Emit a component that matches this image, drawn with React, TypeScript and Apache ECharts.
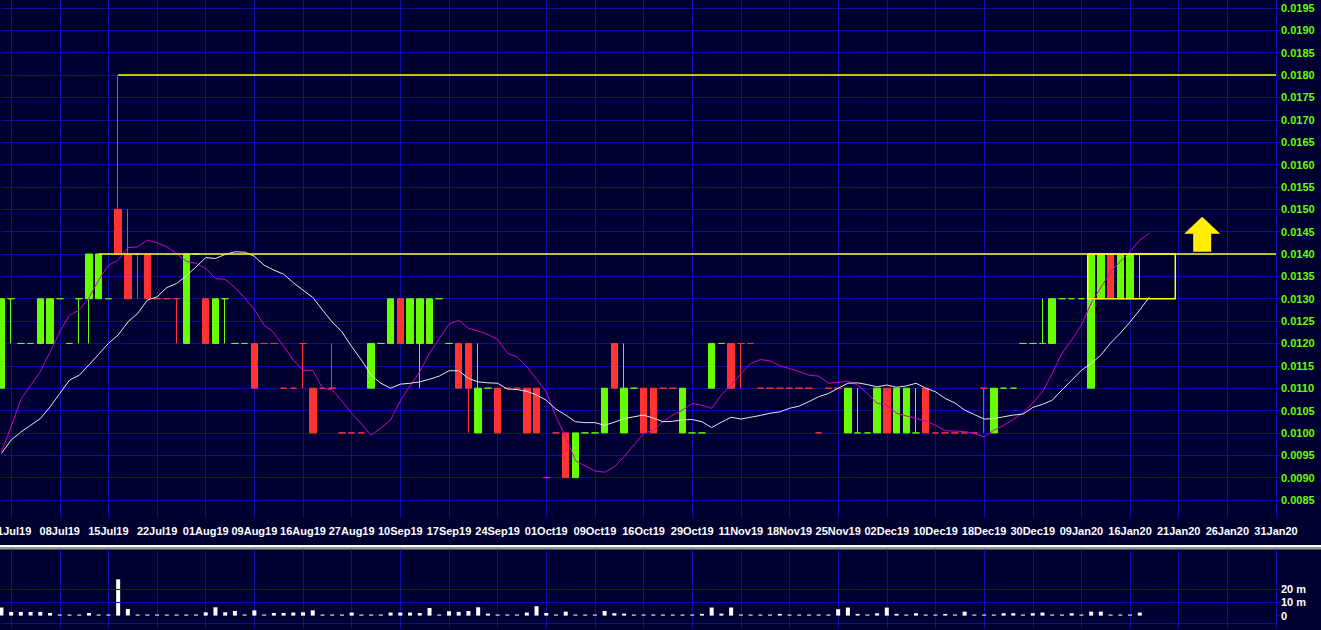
import React, { useEffect, useRef } from 'react';
import * as echarts from 'echarts';

// One category per session; slot 0 is the session before 01Jul19. Labels every 5 sessions.
const DATE_LABELS = ['01Jul19','08Jul19','15Jul19','22Jul19','01Aug19','09Aug19','16Aug19','27Aug19','10Sep19','17Sep19','24Sep19','01Oct19','09Oct19','16Oct19','29Oct19','11Nov19','18Nov19','25Nov19','02Dec19','10Dec19','18Dec19','30Dec19','09Jan20','16Jan20','21Jan20','26Jan20','31Jan20'];
const SLOT_COUNT = 132;
const LABEL_EVERY = 5;

const OPEN = [
  .011,.013,.012,.012,.012,.012,.013,.012,.013,.013,
  .013,.013,.015,.014,.014,.014,.013,.013,.013,.012,
  .014,.013,.012,.013,.012,.012,.012,.012,.012,.011,
  .011,.012,.011,.011,.011,.010,.010,.010,.011,.012,
  .012,.013,.012,.012,.012,.013,.012,.012,.012,.010,
  .011,.011,.011,.011,.011,.011,.009,.010,.010,.009,
  .010,.010,.010,.012,.010,.011,.011,.011,.011,.011,
  .010,.010,.010,.011,.012,.012,.012,.012,.011,.011,
  .011,.011,.011,.011,.010,.011,.011,.010,.010,.010,
  .010,.011,.010,.010,.010,.011,.010,.010,.010,.010,
  .010,.011,.010,.011,.011,.012,.012,.012,.012,.013,
  .013,.013,.011,.013,.014,.013,.013,.014];
const CLOSE = [
  .013,.013,.012,.012,.013,.013,.013,.012,.013,.014,
  .014,.013,.014,.013,.014,.013,.013,.013,.013,.014,
  .014,.012,.013,.013,.012,.012,.011,.012,.012,.011,
  .011,.012,.010,.011,.011,.010,.010,.010,.012,.012,
  .013,.012,.013,.013,.013,.013,.012,.011,.011,.011,
  .011,.010,.011,.011,.010,.010,.009,.010,.009,.010,
  .010,.010,.011,.011,.011,.011,.010,.010,.011,.011,
  .011,.010,.010,.012,.012,.011,.012,.012,.011,.011,
  .011,.011,.011,.011,.010,.011,.011,.011,.010,.010,
  .011,.010,.011,.011,.010,.010,.010,.010,.010,.010,
  .010,.011,.011,.011,.011,.012,.012,.012,.013,.013,
  .013,.013,.014,.014,.013,.014,.014,.014];
const LOW = [
  .011,.012,.012,.012,.012,.012,.013,.012,.012,.012,
  .013,.013,.014,.013,.013,.013,.013,.013,.012,.012,
  .014,.012,.012,.012,.012,.012,.011,.012,.012,.011,
  .011,.011,.010,.011,.011,.010,.010,.010,.011,.012,
  .012,.012,.012,.011,.012,.013,.012,.011,.010,.010,
  .011,.010,.011,.011,.010,.010,.009,.010,.009,.009,
  .010,.010,.010,.011,.010,.011,.010,.010,.011,.011,
  .010,.010,.010,.011,.012,.011,.011,.012,.011,.011,
  .011,.011,.011,.011,.010,.011,.011,.010,.010,.010,
  .010,.010,.010,.010,.010,.010,.010,.010,.010,.010,
  .010,.010,.010,.011,.011,.012,.012,.012,.012,.013,
  .013,.013,.011,.013,.013,.013,.013,.013];
const HIGH = [
  .013,.013,.012,.012,.013,.013,.013,.012,.013,.014,
  .014,.013,.018,.015,.014,.014,.013,.013,.013,.014,
  .014,.013,.013,.013,.012,.012,.012,.012,.012,.011,
  .011,.012,.011,.011,.012,.010,.010,.010,.012,.012,
  .013,.013,.013,.013,.013,.013,.012,.012,.012,.012,
  .011,.011,.011,.011,.011,.011,.009,.010,.010,.010,
  .010,.010,.011,.012,.012,.011,.011,.011,.011,.011,
  .011,.010,.010,.012,.012,.012,.012,.012,.011,.011,
  .011,.011,.011,.011,.010,.011,.011,.011,.011,.010,
  .011,.011,.011,.011,.011,.011,.010,.010,.010,.010,
  .010,.011,.011,.011,.011,.012,.012,.013,.013,.013,
  .013,.013,.014,.014,.014,.014,.014,.014];
const DIRECTION = (
  'GGGGGGGGGG' + 'GGRRRRRRRG' + 'GRGGGGRRRR' + 'RRRRRRRRGG' + 'GRGGGGGRRG' +
  'GRRRRRRRRG' + 'GGGRGGRRRR' + 'GGGGGRRRRR' + 'RRRRRRRGGG' + 'GRGGGRRRRR' +
  'RRGGGGGGGG' + 'GGGGRGGG').split('');
const VOLUME_M = [
  6.1,2.8,2.8,2.8,2.8,2.0,0.8,0.8,0.8,2.0,
  0.8,0.8,27.5,5.0,0.8,0.8,0.8,0.8,0.8,0.8,
  0.8,2.5,6.3,2.5,3.5,0.8,4.0,0.8,2.0,2.0,
  2.3,2.5,4.0,0.8,0.8,0.8,2.3,0.8,0.8,0.8,
  2.3,2.3,2.3,2.0,5.8,0.8,3.3,2.8,3.5,6.3,
  1.5,0.8,0.8,0.8,2.3,7.1,2.0,0.8,3.0,0.8,
  0.8,0.8,3.5,1.8,1.5,0.8,0.8,0.8,0.8,0.8,
  0.8,0.8,1.3,6.1,1.5,6.1,0.8,0.8,0.8,0.8,
  1.3,0.8,0.8,0.8,0.8,0.8,4.8,6.1,1.3,0.8,
  1.8,6.1,1.3,0.8,1.8,0.8,0.8,1.3,0.8,3.0,
  0.8,0.8,0.8,1.8,1.8,0.8,1.8,2.3,0.8,0.8,
  1.8,0.8,3.0,3.0,0.8,0.8,0.8,2.3];
const MA_MAGENTA = [
  .00958,.01014,.01075,.01106,.01137,.01181,.01226,.01263,.01275,.01302,
  .01342,.01375,.01386,.01414,.01416,.01431,.01425,.01416,.01401,.01384,
  .01379,.01368,.01345,.01343,.01325,.01302,.01276,.01241,.01224,.01194,
  .01163,.01140,.01140,.01100,.01096,.01071,.01044,.01020,.00995,.01011,
  .01029,.01072,.01105,.01137,.01178,.01211,.01243,.01252,.01234,.01228,
  .01220,.01209,.01178,.01170,.01148,.01120,.01092,.01036,.00991,.00938,
  .00926,.00915,.00912,.00924,.00947,.00973,.00999,.01006,.01025,.01040,
  .01051,.01066,.01062,.01055,.01085,.01107,.01132,.01155,.01164,.01161,
  .01150,.01144,.01137,.01129,.01127,.01111,.01113,.01116,.01107,.01088,
  .01066,.01062,.01044,.01038,.01032,.01027,.01017,.01005,.01004,.01003,
  .00999,.00991,.01006,.01017,.01030,.01045,.01067,.01092,.01133,.01178,
  .01208,.01241,.01290,.01325,.01360,.01384,.01405,.01431,.01447];
const MA_WHITE = [
  .00954,.00984,.01002,.01017,.01032,.01058,.01088,.01118,.01129,.01152,
  .01176,.01200,.01219,.01248,.01267,.01297,.01304,.01325,.01334,.01351,
  .01371,.01392,.01390,.01399,.01405,.01404,.01395,.01375,.01364,.01355,
  .01336,.01319,.01303,.01275,.01248,.01226,.01193,.01163,.01129,.01111,
  .01100,.01109,.01111,.01114,.01120,.01127,.01139,.01139,.01122,.01114,
  .01112,.01111,.01098,.01097,.01093,.01085,.01073,.01053,.01040,.01025,
  .01023,.01023,.01017,.01024,.01032,.01036,.01040,.01033,.01025,.01026,
  .01029,.01030,.01025,.01012,.01024,.01035,.01031,.01035,.01039,.01044,
  .01047,.01055,.01060,.01070,.01081,.01088,.01100,.01111,.01112,.01108,
  .01103,.01107,.01102,.01105,.01111,.01100,.01092,.01077,.01067,.01051,
  .01041,.01031,.01032,.01036,.01040,.01042,.01057,.01064,.01073,.01096,
  .01118,.01140,.01155,.01174,.01201,.01223,.01248,.01275,.01304];

const HIGH_LINE = { fromSlot: 12, value: 0.018 };
const RESIST_LINE = { fromSlot: 10, value: 0.014 };
const BOX = [112, 121, 0.014, 0.013];
const ARROW = [123, 0.01444];
const VOL_GUIDES = [20, 10, -5.8];

const BG = '#000030';
const GRIDC = '#0c0ca8';
const GREEN = '#66ff00';
const RED = '#ff3333';

export default function App() {
  const ref = useRef<HTMLDivElement>(null);
  useEffect(() => {
    if (!ref.current) return;
    const chart = echarts.init(ref.current, undefined, { renderer: 'svg' });
    const cats = Array.from({ length: SLOT_COUNT }, (_, i) => 'c' + i);
    const isLabel = (i: number) => i >= 1 && (i - 1) % LABEL_EVERY === 0;
    const lastSlot = SLOT_COUNT - 1;

    const candles = OPEN.map((o, i) => {
      const col = DIRECTION[i] === 'G' ? GREEN : RED;
      return {
        value: [o, CLOSE[i], LOW[i], HIGH[i]],
        itemStyle: { color: col, color0: col, borderColor: col, borderColor0: col, borderColorDoji: col },
      };
    });

    const xAx = (g: number) => ({
      type: 'category', gridIndex: g, data: cats, boundaryGap: false,
      axisLine: { show: false }, axisTick: { show: false },
      axisLabel: g === 0 ? {
        show: true, interval: (i: number) => isLabel(i),
        formatter: (_v: string, i: number) => (isLabel(i) ? DATE_LABELS[(i - 1) / LABEL_EVERY] : ''),
        color: '#ffffff', fontWeight: 'bold', fontSize: 11,
        fontFamily: '"Liberation Sans Narrow", "Arial Narrow", "Liberation Sans", sans-serif', margin: 7,
      } : { show: false },
      splitLine: g === 1 ? { show: false } : { show: true, interval: (i: number) => isLabel(i), lineStyle: { color: GRIDC, width: 1 } },
    });

    const gridBase = { left: 1.4, right: 45, containLabel: false, outerBoundsMode: 'none' };
    const option: any = {
      backgroundColor: BG,
      animation: false,
      grid: [
        { ...gridBase, top: 0, height: 518 },
        { ...gridBase, top: 8, height: 492 },
        { ...gridBase, top: 549.6, height: 79.2 },
      ],
      xAxis: [xAx(0), xAx(1), xAx(2)],
      yAxis: [
        { gridIndex: 0, type: 'value', min: 0, max: 1, show: false },
        {
          gridIndex: 1, type: 'value', position: 'right', min: 0.0085, max: 0.0195, interval: 0.0005,
          axisLine: { show: false },
          axisTick: { show: true, length: 4, lineStyle: { color: GRIDC } },
          axisLabel: { color: GREEN, fontWeight: 'bold', fontSize: 11, fontFamily: '"Liberation Sans", Arial, sans-serif', margin: 5, formatter: (v: number) => v.toFixed(4) },
          splitLine: { show: true, lineStyle: { color: GRIDC, width: 1 } },
        },
        {
          gridIndex: 2, type: 'value', position: 'right', min: -10, max: 50, interval: 10,
          axisLine: { show: false },
          axisTick: { show: true, length: 4, customValues: [0, 10, 20], lineStyle: { color: GRIDC } },
          axisLabel: {
            color: '#ffffff', fontWeight: 'bold', fontSize: 11, fontFamily: '"Liberation Sans", Arial, sans-serif', margin: 5,
            customValues: [0, 10, 20],
            formatter: (v: number) => (v === 0 ? '0' : v === 10 ? '10 m' : v === 20 ? '20 m' : ''),
          },
          splitLine: { show: false },
        },
      ],
      series: [
        {
          type: 'candlestick', xAxisIndex: 1, yAxisIndex: 1, barWidth: 7, clip: false, z: 2, silent: true,
          data: candles,
          itemStyle: { borderWidth: 1 },
          markLine: {
            silent: true, symbol: ['none', 'none'], label: { show: false }, z: 4,
            lineStyle: { color: '#ffff00', width: 1.5, type: 'solid' },
            data: [
              [{ coord: [HIGH_LINE.fromSlot, HIGH_LINE.value] }, { coord: [lastSlot, HIGH_LINE.value] }],
              [{ coord: [RESIST_LINE.fromSlot, RESIST_LINE.value] }, { coord: [lastSlot, RESIST_LINE.value] }],
            ],
          },
          markPoint: {
            silent: true,
            data: [{
              coord: ARROW, symbol: 'path://M0,17L18,0L36,17L27,17L27,35L9,35L9,17Z',
              symbolSize: [36, 35], symbolOffset: [4, 0], itemStyle: { color: '#ffee00' }, label: { show: false },
            }],
          },
        },
        {
          type: 'line', xAxisIndex: 1, yAxisIndex: 1, data: MA_MAGENTA, symbol: 'none', z: 3, silent: true,
          lineStyle: { color: '#cc00cc', width: 1 },
        },
        {
          type: 'line', xAxisIndex: 1, yAxisIndex: 1, data: MA_WHITE, symbol: 'none', z: 3, silent: true,
          lineStyle: { color: '#e8e8e8', width: 1 },
        },
        {
          type: 'custom', xAxisIndex: 1, yAxisIndex: 1, z: 5, silent: true,
          data: [BOX], encode: { x: [0, 1], y: [2, 3] },
          renderItem: (_p: any, api: any) => {
            const a = api.coord([api.value(0), api.value(2)]);
            const b = api.coord([api.value(1), api.value(3)]);
            const shift = api.size([1, 0])[0] * 0.35;
            return {
              type: 'rect',
              shape: { x: a[0] - shift, y: a[1], width: b[0] - a[0], height: b[1] - a[1] },
              style: { fill: 'none', stroke: '#ffff00', lineWidth: 1.5 },
            };
          },
        },
        {
          type: 'bar', xAxisIndex: 2, yAxisIndex: 2, data: VOLUME_M, barWidth: 4, silent: true,
          itemStyle: { color: '#ffffff' },
          markLine: {
            silent: true, symbol: ['none', 'none'], label: { show: false },
            lineStyle: { color: GRIDC, width: 1, type: 'solid' },
            data: VOL_GUIDES.map((v) => ({ yAxis: v })),
          },
        },
      ],
      graphic: [
        { type: 'rect', left: 0, top: 545, shape: { width: 1321, height: 2.5 }, style: { fill: '#ffffff' }, silent: true },
        { type: 'rect', left: 0, top: 547.5, shape: { width: 1321, height: 2 }, style: { fill: '#9a9a9a' }, silent: true },
      ],
    };
    chart.setOption(option);
    return () => chart.dispose();
  }, []);
  return <div ref={ref} style={{ position: 'absolute', left: 0, top: 0, width: 1321, height: 630 }} />;
}
